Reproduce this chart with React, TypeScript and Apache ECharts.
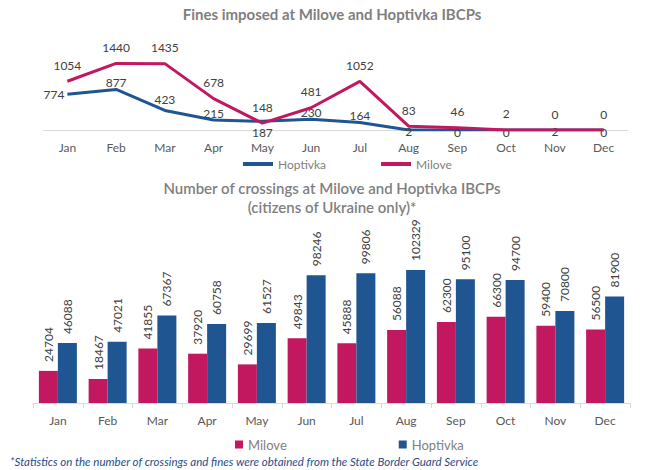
import React, { useEffect, useRef } from "react";
import * as echarts from "echarts";

const months = ["Jan", "Feb", "Mar", "Apr", "May", "Jun", "Jul", "Aug", "Sep", "Oct", "Nov", "Dec"];
const finesHoptivka = [774, 877, 423, 215, 187, 230, 164, 2, 0, 0, 2, 0];
const finesMilove = [1054, 1440, 1435, 678, 148, 481, 1052, 83, 46, 2, 0, 0];
const crossMilove = [24704, 18467, 41855, 37920, 29699, 49843, 45888, 56088, 62300, 66300, 59400, 56500];
const crossHoptivka = [46088, 47021, 67367, 60758, 61527, 98246, 99806, 102329, 95100, 94700, 70800, 81900];

const PINK = "#C2185F";
const BLUE = "#1F5591";
const FONT = "Lato, 'Open Sans', sans-serif";

// label placement for Hoptivka fines line
const hopLabelPos = ["left", "top", "top", "top", "bottom", "top", "top", "bottom", "bottom", "bottom", "bottom", "bottom"];
const hopLabelDist = [3, 1, 5, 1, 5, 1, 1, -4, -4, -4, -4, -4];

function TopChart() {
  const ref = useRef<HTMLDivElement>(null);
  useEffect(() => {
    const chart = echarts.init(ref.current!, null, { renderer: "svg" });
    chart.setOption({
      animation: false,
      textStyle: { fontFamily: FONT },
      title: {
        text: "Fines imposed at Milove and Hoptivka IBCPs",
        left: "center",
        top: 1,
        textStyle: { fontFamily: FONT, fontSize: 15, fontWeight: "bold", color: "#7f7f7f" },
      },
      legend: {
        left: 238,
        top: 153,
        itemWidth: 30,
        itemHeight: 4,
        itemGap: 55,
        data: [
          { name: "Hoptivka", icon: "rect" },
          { name: "Milove", icon: "rect" },
        ],
        textStyle: { fontFamily: FONT, fontSize: 12, color: "#808080" },
      },
      grid: { left: 43, right: 36, top: 56, bottom: 50 },
      xAxis: {
        type: "category",
        data: months,
        axisLine: { lineStyle: { color: "#d9d9d9", width: 1 } },
        axisTick: { show: false },
        axisLabel: { color: "#595959", fontSize: 12, margin: 11, fontFamily: FONT },
      },
      yAxis: { type: "value", min: 0, max: 1600, show: false, splitLine: { show: false } },
      series: [
        {
          name: "Hoptivka",
          type: "line",
          data: finesHoptivka.map((v, i) => ({
            value: v,
            label: { position: hopLabelPos[i], distance: hopLabelDist[i] },
          })),
          symbol: "circle",
          symbolSize: 0,
          showSymbol: true,
          lineStyle: { color: BLUE, width: 3 },
          itemStyle: { color: BLUE },
          label: { show: true, fontSize: 12, color: "#404040", fontFamily: FONT },
          z: 2,
        },
        {
          name: "Milove",
          type: "line",
          data: finesMilove,
          symbol: "circle",
          symbolSize: 0,
          showSymbol: true,
          lineStyle: { color: PINK, width: 3 },
          itemStyle: { color: PINK },
          label: { show: true, position: "top", distance: 10, fontSize: 12, color: "#404040", fontFamily: FONT },
          z: 3,
        },
      ],
    });
    return () => chart.dispose();
  }, []);
  return <div ref={ref} style={{ position: "absolute", left: 0, top: 0, width: 664, height: 180 }} />;
}

function BottomChart() {
  const ref = useRef<HTMLDivElement>(null);
  useEffect(() => {
    const chart = echarts.init(ref.current!, null, { renderer: "svg" });
    const barLabel = {
      show: true,
      position: "top",
      distance: 9,
      rotate: 90,
      align: "left",
      verticalAlign: "middle",
      fontSize: 12,
      color: "#404040",
      fontFamily: FONT,
    };
    const titleStyle = { fontFamily: FONT, fontSize: 15, fontWeight: 600, color: "#7f7f7f", lineHeight: 18 };
    chart.setOption({
      animation: false,
      textStyle: { fontFamily: FONT },
      title: [
        { text: "Number of crossings at Milove and Hoptivka IBCPs", left: "center", top: 9, padding: 0, textStyle: titleStyle },
        { text: "(citizens of Ukraine only)*", left: "center", top: 28, padding: 0, textStyle: titleStyle },
      ],
      legend: {
        left: 230,
        top: 263,
        itemWidth: 8,
        itemHeight: 8,
        itemGap: 112,
        icon: "rect",
        data: ["Milove", "Hoptivka"],
        textStyle: { fontFamily: FONT, fontSize: 13, color: "#808080" },
      },
      grid: { left: 33, right: 34, top: 77, bottom: 67 },
      xAxis: {
        type: "category",
        data: months,
        axisLine: { lineStyle: { color: "#d9d9d9", width: 1 } },
        axisTick: { show: true, length: 5, lineStyle: { color: "#d9d9d9" } },
        axisLabel: { color: "#595959", fontSize: 12, margin: 11, fontFamily: FONT },
      },
      yAxis: { type: "value", min: 0, max: 120000, show: false, splitLine: { show: false } },
      series: [
        {
          name: "Milove",
          type: "bar",
          data: crossMilove,
          barWidth: 19,
          barGap: "0%",
          itemStyle: { color: PINK },
          label: barLabel,
        },
        {
          name: "Hoptivka",
          type: "bar",
          data: crossHoptivka,
          barWidth: 19,
          barGap: "0%",
          itemStyle: { color: BLUE },
          label: barLabel,
        },
      ],
      graphic: [
        {
          type: "text",
          left: 10,
          top: 285,
          style: {
            text: "*Statistics on the number of crossings and fines were obtained from the State Border Guard Service",
            fontFamily: FONT,
            fontStyle: "italic",
            fontSize: 11.5,
            fill: "#1F4E8C",
          },
        },
      ],
    });
    return () => chart.dispose();
  }, []);
  return <div ref={ref} style={{ position: "absolute", left: 0, top: 170, width: 664, height: 300 }} />;
}

export default function App() {
  return (
    <div style={{ position: "absolute", left: 0, top: 0, width: 664, height: 470, background: "#fff" }}>
      <TopChart />
      <BottomChart />
    </div>
  );
}
